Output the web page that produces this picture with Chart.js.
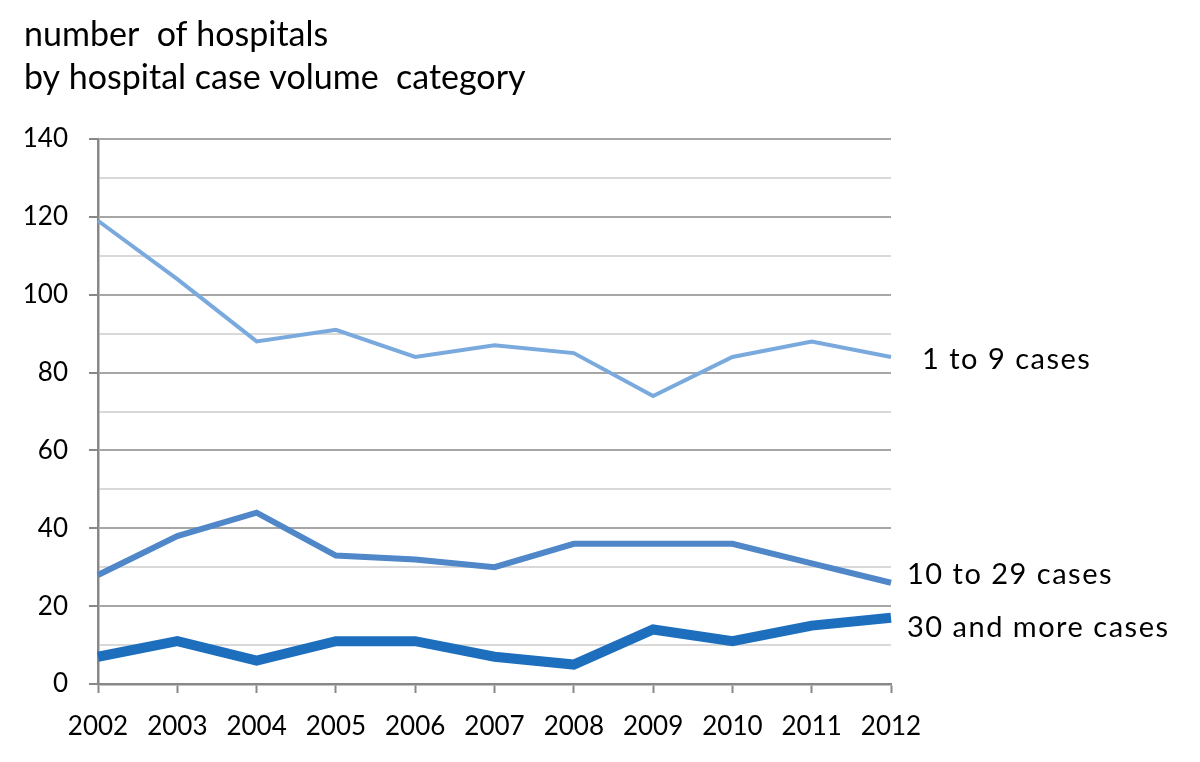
<!DOCTYPE html>
<html>
<head>
<meta charset="utf-8">
<script src="https://cdn.jsdelivr.net/npm/chart.js@4.4.0/dist/chart.umd.min.js"></script>
<style>
    html, body { margin: 0; padding: 0; background: #fff; }
    #wrap { width: 1200px; height: 762px; }
</style>
</head>
<body>
<div id="wrap"><canvas id="chart" width="1200" height="762"></canvas></div>
<script>
const years = ['2002', '2003', '2004', '2005', '2006', '2007', '2008', '2009', '2010', '2011', '2012'];
const small = [119, 104, 88, 91, 84, 87, 85, 74, 84, 88, 84];
const medium = [28, 38, 44, 33, 32, 30, 36, 36, 36, 31, 26];
const large = [7, 11, 6, 11, 11, 7, 5, 14, 11, 15, 17];
const seriesNames = ['1 to 9 cases', '10 to 29 cases', '30 and more cases'];
const titleLines = ['number  of hospitals', 'by hospital case volume  category'];

const FONT = 'Lato, "Open Sans", sans-serif';

// end labels next to the last point of each line, plus title at top left
const annotate = {
    id: 'annotate',
    afterDraw(chart) {
        const ctx = chart.ctx;
        const xs = chart.scales.x;
        const ys = chart.scales.y;
        ctx.save();
        ctx.fillStyle = '#000';
        ctx.font = '34px ' + FONT;
        ctx.textAlign = 'left';
        ctx.textBaseline = 'alphabetic';
        ctx.fillText(titleLines[0], 24, 46);
        ctx.fillText(titleLines[1], 24, 89);

        const shifts = [{dx: 31, dy: 3}, {dx: 16, dy: -8}, {dx: 16, dy: 10}];
        ctx.font = '29px ' + FONT;
        ctx.letterSpacing = '1.5px';
        ctx.textBaseline = 'middle';
        chart.data.datasets.forEach((ds, i) => {
            const last = ds.data.length - 1;
            const x = xs.getPixelForValue(last) + shifts[i].dx;
            const y = ys.getPixelForValue(ds.data[last]) + shifts[i].dy;
            ctx.fillText(seriesNames[i], x, y);
        });
        ctx.restore();
    }
};

new Chart(document.getElementById('chart'), {
    type: 'line',
    data: {
        labels: years,
        datasets: [{
            label: seriesNames[0],
            data: small,
            borderColor: '#7aaadd',
            borderWidth: 4
        }, {
            label: seriesNames[1],
            data: medium,
            borderColor: '#4f87c8',
            borderWidth: 6
        }, {
            label: seriesNames[2],
            data: large,
            borderColor: '#1d6fbe',
            borderWidth: 10
        }]
    },
    options: {
        responsive: false,
        animation: false,
        devicePixelRatio: 1,
        layout: {
            padding: {top: 139, right: 309, bottom: 0, left: 0}
        },
        elements: {
            point: {radius: 0},
            line: {tension: 0, borderJoinStyle: 'miter', borderCapStyle: 'butt'}
        },
        plugins: {
            legend: {display: false},
            tooltip: {enabled: false}
        },
        scales: {
            x: {
                offset: false,
                afterFit: (scale) => { scale.height = 78; },
                border: {color: '#888', width: 2.5},
                grid: {
                    drawOnChartArea: false,
                    drawTicks: true,
                    tickLength: 9,
                    tickColor: '#888',
                    tickWidth: 2
                },
                ticks: {
                    color: '#000',
                    font: {family: FONT, size: 26},
                    padding: 18,
                    maxRotation: 0,
                    autoSkip: false
                }
            },
            y: {
                min: 0,
                max: 140,
                afterFit: (scale) => { scale.width = 98; },
                border: {color: '#888', width: 2.5},
                grid: {
                    color: (c) => (c.tick && c.tick.value % 20 === 0) ? '#a6a6a6' : '#d9d9d9',
                    lineWidth: 2,
                    tickLength: 9,
                    tickColor: (c) => (c.tick && c.tick.value % 20 === 0) ? '#888' : 'rgba(0,0,0,0)',
                    tickWidth: 2
                },
                ticks: {
                    stepSize: 10,
                    color: '#000',
                    font: {family: FONT, size: 26},
                    padding: 21,
                    callback: (v) => (v % 20 === 0 ? v : '')
                }
            }
        }
    },
    plugins: [annotate]
});
</script>
</body>
</html>
